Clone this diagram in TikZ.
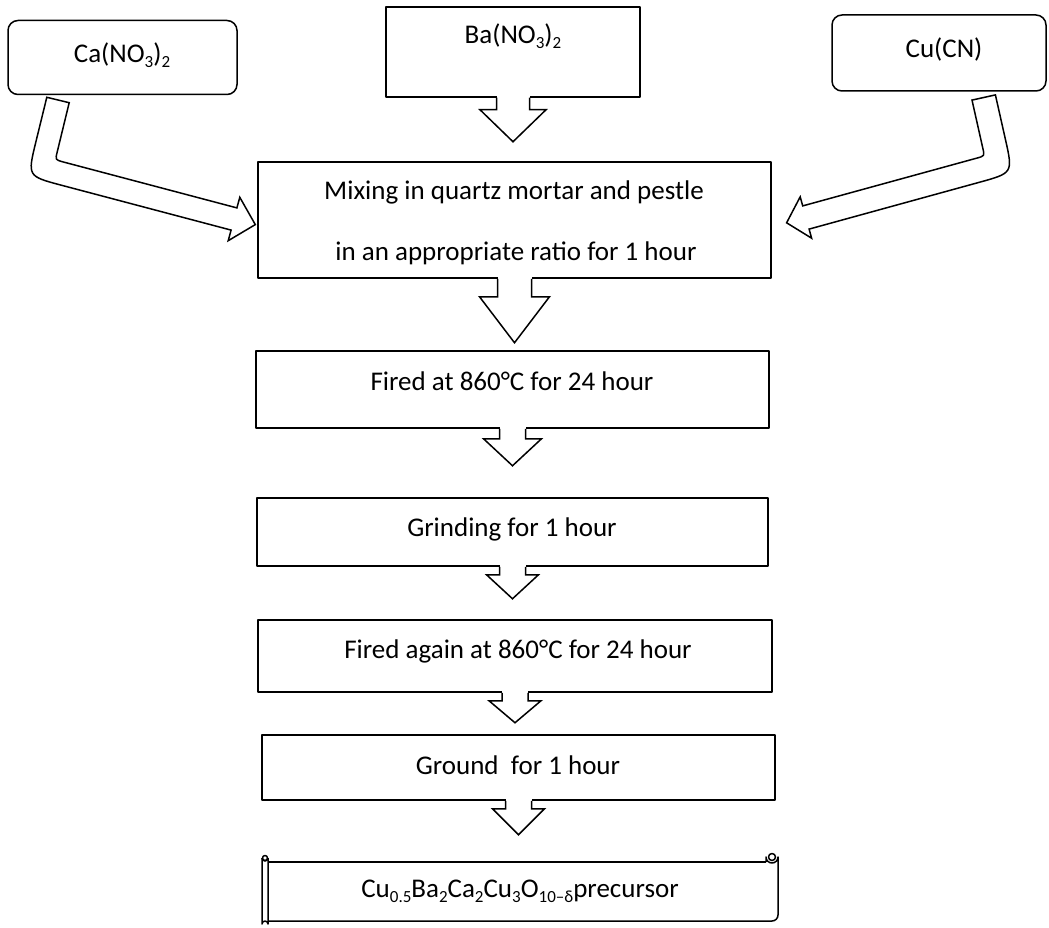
\documentclass[tikz,border=0pt]{standalone}
\usepackage{fontspec}
\setmainfont{Carlito}
\usetikzlibrary{calc}
\newcommand\chs[1]{\raisebox{-0.4ex}{\fontsize{17}{17}\selectfont #1}}
\tikzset{
  pics/blockdown/.style args={#1/#2/#3/#4}{code={
    \fill[white] (-#1,-2) rectangle (#1,#2);
    \draw[line join=miter] (-#1,0) -- (-#1,#2) -- (-#3,#2) -- (0,{#2+#4}) -- (#3,#2) -- (#1,#2) -- (#1,0);
  }},
  box/.style={draw, rectangle, inner sep=0pt},
  rbox/.style={draw, rectangle, rounded corners=10pt, inner sep=0pt},
  lbl/.style={inner sep=0pt, font=\fontsize{27}{32}\selectfont},
}
\begin{document}
\begin{tikzpicture}[x=1pt,y=-1pt,line width=1.5pt,line join=round]
\useasboundingbox (0,0) rectangle (1049,928);
% source boxes
\node[rbox, minimum width=229pt, minimum height=74pt] (ca) at (122.5,57.5) {};
\node[box,  minimum width=254pt, minimum height=90pt] (ba) at (513,52) {};
\node[rbox, minimum width=214pt, minimum height=76pt] (cu) at (939,53) {};
\node[lbl] (tca) at (122,55) {Ca(NO\chs{3})\chs{2}};
\node[lbl] (tba) at (513,36) {Ba(NO\chs{3})\chs{2}};
\node[lbl] (tcu) at (944,50) {Cu(CN)};
% process boxes
\node[box, minimum width=513pt, minimum height=116pt] (mix) at (514.5,220) {};
\node[box, minimum width=513pt, minimum height=77pt] (fire) at (512.5,389.5) {};
\node[box, minimum width=511pt, minimum height=68pt] (grind) at (512.5,532) {};
\node[box, minimum width=514pt, minimum height=72pt] (fire2) at (515,656) {};
\node[box, minimum width=513pt, minimum height=65pt] (ground) at (518.5,767.5) {};
\node[lbl] (tmix1) at (514,192) {Mixing in quartz mortar and pestle};
\node[lbl] (tmix2) at (516,253) {in an appropriate ratio for 1 hour};
\node[lbl] (tfire) at (512,381) {Fired at 860°C for 24 hour};
\node[lbl] (tgrind) at (512,529) {Grinding for 1 hour};
\node[lbl] (tfire2) at (518,651) {Fired again at 860°C for 24 hour};
\node[lbl] (tground) at (518,765) {Ground\ \ for 1 hour};
% scroll
\node[inner sep=0pt, minimum width=506pt, minimum height=59pt] (prec) at (520,891.5) {};
\draw (268,862) -- (766,862);
\draw (766,862) -- (766,857) arc[start angle=180, end angle=0, radius=6] -- (778,915) arc[start angle=0, end angle=90, radius=6] -- (268,921);
\draw (772,857) circle[radius=3.5];
\draw (262,858) -- (262,924) arc[start angle=180, end angle=360, radius=3] -- (268,858);
\draw (262,858) arc[start angle=180, end angle=0, radius=3];
\draw (265,858) circle[radius=2.5];
\node[lbl] (tprec) at (520,891) {Cu\chs{0.5}Ba\chs{2}Ca\chs{2}Cu\chs{3}O\chs{10–δ}precursor};
% straight block arrows
\pic at (ba.south) {blockdown=16.5/12/33/32};
\pic at (mix.south) {blockdown=17/18/35/46};
\pic at (fire.south) {blockdown=13/10/29/27};
\pic at (grind.south) {blockdown=13/8/26/24};
\pic at (fire2.south) {blockdown=13/8/26/22};
\pic at (ground.south) {blockdown=13/8/26/26};
% curved block arrows
\draw[fill=white, line join=miter] (46.8,97.3) -- (69.2,102.7) -- (57.2,152.0) .. controls (55.3,159.8) .. (63.0,161.9)
  -- (236.9,207.9) -- (239.8,197.3) -- (255.3,224.6) -- (228.2,240.7) -- (231.1,230.1)
  -- (61.3,185.2) .. controls (27.5,176.2) .. (35.8,142.2) -- cycle;
\draw[fill=white, line join=miter] (995.4,94.9) -- (972,100.1) -- (982.8,148.2) .. controls (984.6,156.0) .. (976.9,158.1)
  -- (802.7,205.9) -- (800.2,196.8) -- (786.6,222.8) -- (811.6,238.2) -- (809.1,229.1)
  -- (979.3,182.3) .. controls (1013,173) .. (1005.3,138.9) -- cycle;
\end{tikzpicture}
\end{document}
